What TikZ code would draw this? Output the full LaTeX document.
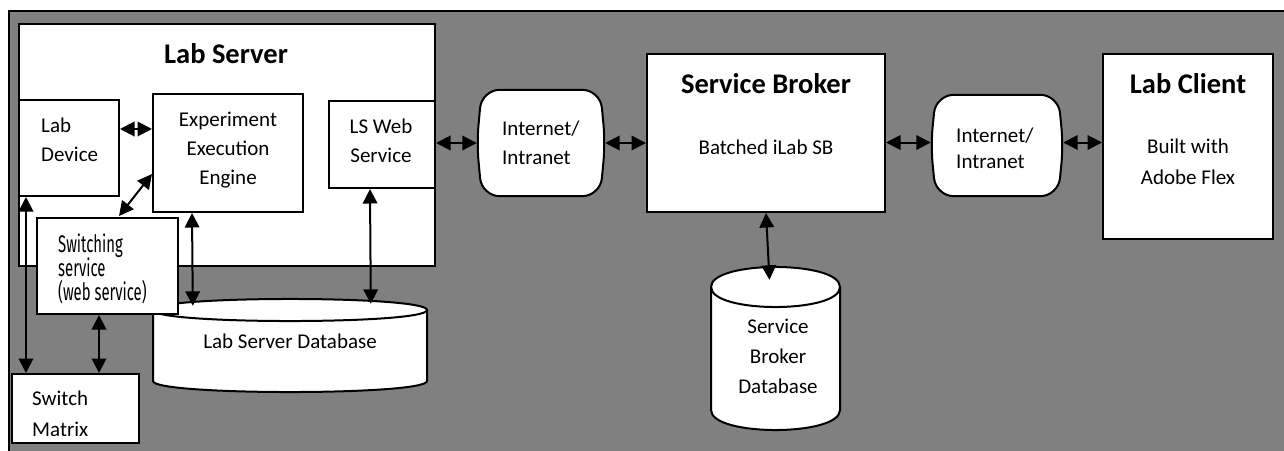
\documentclass[tikz,border=0pt]{standalone}
\usepackage{fontspec}
\setmainfont{Carlito}
\newfontfamily\agency[FakeStretch=0.62]{Fira Sans}
\usetikzlibrary{arrows.meta,calc}
\definecolor{bggray}{HTML}{808080}
\tikzset{
  box/.style={draw=black, line width=2pt, fill=white, inner sep=0pt, rectangle},
  ghost/.style={inner sep=0pt, rectangle},
  shapeline/.style={draw=black, line width=2pt, fill=white},
  arr/.style={line width=2pt, {Triangle[length=14.5pt,width=14.5pt]}-{Triangle[length=14.5pt,width=14.5pt]}},
  txt/.style={inner sep=0pt, anchor=base, font=\fontsize{21}{25}\selectfont},
  ltxt/.style={txt, anchor=base west},
  ttl/.style={inner sep=0pt, anchor=base, font=\bfseries\fontsize{28.5}{32}\selectfont},
  ntxt/.style={inner sep=0pt, anchor=base west, font=\agency\fontsize{24}{28}\selectfont},
}
\begin{document}
\begin{tikzpicture}[x=1pt,y=-1pt]
\useasboundingbox (0,0) rectangle (1284,450);
% background
\fill[white] (0,0) rectangle (1284,450);
\fill[bggray] (9,11) rectangle (1290,460);
\draw[line width=2pt] (9,460) -- (9,11) -- (1290,11);

% Lab server outer box
\node[box, minimum width=416pt, minimum height=242pt] (ls) at (227,145) {};
\node[box, minimum width=100pt, minimum height=96pt] (ld) at (69,148) {};
\node[box, minimum width=150pt, minimum height=118pt] (eee) at (228,153) {};
\node[box, minimum width=106pt, minimum height=87pt] (lsw) at (382,144.5) {};

% Lab server database (cylinder)
\node[ghost, minimum width=274pt, minimum height=93pt] (lsdb) at (290,345.5) {};
\draw[shapeline] (153,310) -- (153,381) .. controls (153,395.7) and (427,395.7) .. (427,381)
   -- (427,310) .. controls (427,295.3) and (153,295.3) .. (153,310) -- cycle;
\draw[line width=2pt] (153,310) .. controls (153,324.7) and (427,324.7) .. (427,310);

\node[box, minimum width=141pt, minimum height=96pt] (sw) at (107.5,266) {};
\node[box, minimum width=127pt, minimum height=69pt] (sm) at (75.5,408.5) {};

% Internet clouds
\node[ghost, minimum width=128pt, minimum height=106pt] (i1) at (541,143) {};
\draw[shapeline, rounded corners=18pt] (i1.north) -- ($(i1.north east)+(-5,0)$) -- (i1.east)
   -- ($(i1.south east)+(-5,0)$) -- ($(i1.south west)+(5,0)$) -- (i1.west)
   -- ($(i1.north west)+(5,0)$) -- cycle;
\node[ghost, minimum width=132pt, minimum height=101pt] (i2) at (997,145.5) {};
\draw[shapeline, rounded corners=18pt] (i2.north) -- ($(i2.north east)+(-5,0)$) -- (i2.east)
   -- ($(i2.south east)+(-5,0)$) -- ($(i2.south west)+(5,0)$) -- (i2.west)
   -- ($(i2.north west)+(5,0)$) -- cycle;

\node[box, minimum width=238pt, minimum height=158pt] (sb) at (766,133) {};
\node[box, minimum width=170pt, minimum height=185pt] (lc) at (1188,146.5) {};

% Service broker database
\node[ghost, minimum width=129pt, minimum height=163pt] (sbdb) at (775.5,348.5) {};
\draw[shapeline] (711,287) -- (711,410) .. controls (711,436.7) and (840,436.7) .. (840,410)
   -- (840,287) .. controls (840,260.3) and (711,260.3) .. (711,287) -- cycle;
\draw[line width=2pt] (711,287) .. controls (711,313.7) and (840,313.7) .. (840,287);

% connectors
\draw[arr] ($(ld.north east)+(0,30)$) -- ($(eee.north west)+(0,36)$);
\draw[arr] ($(eee.north west)+(0,81)$) -- ($(sw.north west)+(83,-1)$);
\draw[arr] ($(ld.south west)+(8,0)$) -- ($(sm.north west)+(15,0)$);
\draw[arr] ($(sw.south west)+(63,0)$) -- ($(sm.north west)+(88,0)$);
\draw[arr] ($(eee.south west)+(40,0)$) -- ($(lsdb.north west)+(40,7)$);
\draw[arr] ($(lsw.south west)+(42,0)$) -- ($(lsdb.north west)+(218,5)$);
\draw[arr] (lsw.east |- i1.west) -- (i1.west);
\draw[arr] (i1.east) -- (i1.east -| sb.west);
\draw[arr] ($(i2.west -| sb.east)+(0,-3)$) -- ($(i2.west)+(0,-3)$);
\draw[arr] ($(i2.east)+(0,-3)$) -- ($(i2.east -| lc.west)+(0,-3)$);
\draw[arr] (sb.south) -- ($(sbdb.north)+(-6,13)$);

% texts
\node[ttl] (tls) at (226,63) {Lab Server};
\node[ltxt] (tld1) at (41,132) {Lab};
\node[ltxt] (tld2) at (41,161) {Device};
\node[txt] (te1) at (228,126) {Experiment};
\node[txt] (te2) at (228,155) {Execution};
\node[txt] (te3) at (228,184) {Engine};
\node[txt] (tw1) at (381,133) {LS Web};
\node[txt] (tw2) at (381,162) {Service};
\node[ntxt] (ts1) at (58,252) {Switching};
\node[ntxt] (ts2) at (58,276) {service};
\node[ntxt] (ts3) at (58,300) {(web service)};
\node[txt] (tdb) at (290,348) {Lab Server Database};
\node[ltxt] (tm1) at (32,405) {Switch};
\begin{scope}
\clip (12,374) rectangle (139,435.5);
\node[ltxt] (tm2) at (32,436) {Matrix};
\end{scope}
\node[ltxt] (ti1) at (502,135) {Internet/};
\node[ltxt] (ti2) at (502,164) {Intranet};
\node[ttl] (tsb) at (766,93) {Service Broker};
\node[txt] (tsb2) at (766,154) {Batched iLab SB};
\node[ltxt] (tj1) at (956,142) {Internet/};
\node[ltxt] (tj2) at (956,168) {Intranet};
\node[ttl] (tlc) at (1188,93) {Lab Client};
\node[txt] (tlc1) at (1188,153) {Built with};
\node[txt] (tlc2) at (1188,184) {Adobe Flex};
\node[txt] (td1) at (778,333) {Service};
\node[txt] (td2) at (778,363) {Broker};
\node[txt] (td3) at (778,393) {Database};
\end{tikzpicture}
\end{document}
